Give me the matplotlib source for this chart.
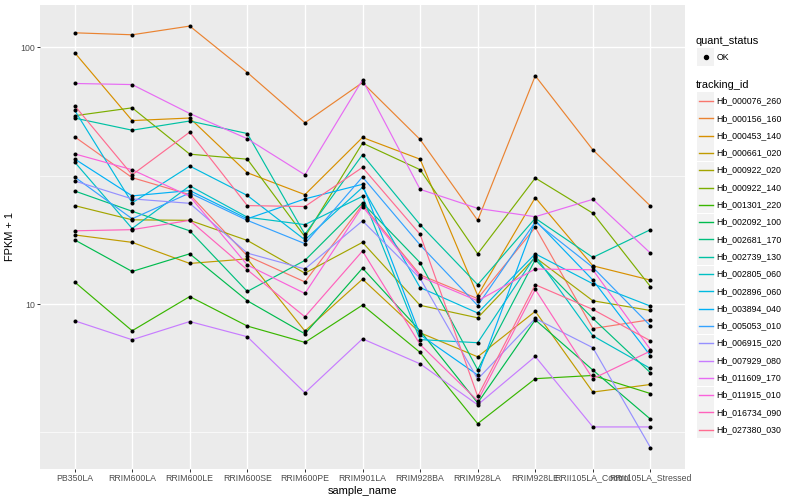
import matplotlib
matplotlib.use("Agg")
import matplotlib.pyplot as plt
from matplotlib.lines import Line2D
from matplotlib.patches import Rectangle
from matplotlib.ticker import FixedLocator, NullFormatter
import numpy as np

plt.rcParams['font.family'] = ['Liberation Sans', 'DejaVu Sans']

samples = ["PB350LA", "RRIM600LA", "RRIM600LE", "RRIM600SE", "RRIM600PE",
           "RRIM901LA", "RRIM928BA", "RRIM928LA", "RRIM928LE",
           "RRII105LA_Control", "RRII105LA_Stressed"]

tracking_ids = ["Hb_000076_260", "Hb_000156_160", "Hb_000453_140", "Hb_000661_020",
                "Hb_000922_020", "Hb_000922_140", "Hb_001301_220", "Hb_002092_100",
                "Hb_002681_170", "Hb_002739_130", "Hb_002805_060", "Hb_002896_060",
                "Hb_003894_040", "Hb_005053_010", "Hb_006915_020", "Hb_007929_080",
                "Hb_011609_170", "Hb_011915_010", "Hb_016734_090", "Hb_027380_030"]

# FPKM + 1 per gene, one value per sample (same order as samples)
hb_000076_260 = [44.9, 31.1, 26.7, 15.4, 12.2, 24.4, 13.0, 10.5, 19.9, 8.03, 8.69]
hb_000156_160 = [114.1, 112.1, 121.2, 79.9, 50.9, 73.0, 43.8, 21.2, 77.6, 39.9, 24.1]
hb_000453_140 = [95.6, 51.9, 53.1, 32.5, 26.7, 44.6, 36.7, 10.8, 26.0, 14.1, 12.4]
hb_000661_020 = [18.6, 17.4, 14.4, 15.0, 7.85, 12.5, 7.73, 6.23, 9.37, 4.54, 4.86]
hb_000922_020 = [24.2, 21.3, 21.2, 17.7, 13.2, 17.4, 9.89, 8.84, 15.2, 10.3, 9.44]
hb_000922_140 = [54.2, 58.2, 38.4, 36.7, 18.3, 42.4, 33.4, 15.7, 31.0, 22.6, 11.7]
hb_001301_220 = [12.2, 7.87, 10.7, 8.21, 7.09, 9.91, 6.48, 3.42, 5.12, 5.27, 4.48]
hb_002092_100 = [17.8, 13.4, 15.7, 10.3, 7.66, 13.8, 7.87, 4.12, 8.68, 5.53, 3.56]
hb_002681_170 = [27.6, 23.0, 19.3, 11.2, 14.8, 24.8, 14.5, 5.55, 14.9, 8.79, 5.40]
hb_002739_130 = [53.1, 47.6, 51.7, 46.2, 18.7, 38.2, 20.4, 11.9, 21.6, 15.2, 19.5]
hb_002805_060 = [35.8, 19.7, 28.9, 21.8, 20.4, 26.3, 7.27, 7.07, 15.4, 7.52, 5.61]
hb_002896_060 = [57.0, 24.8, 34.5, 26.5, 17.8, 28.5, 11.6, 9.23, 15.7, 12.0, 9.82]
hb_003894_040 = [36.8, 26.4, 27.7, 21.5, 25.7, 29.3, 7.59, 5.29, 21.2, 12.4, 6.29]
hb_005053_010 = [31.3, 21.5, 27.1, 21.2, 17.2, 31.3, 17.0, 9.87, 20.9, 13.9, 8.23]
hb_006915_020 = [30.2, 25.7, 24.7, 15.8, 13.7, 21.1, 12.6, 5.10, 8.79, 6.76, 2.76]
hb_007929_080 = [8.61, 7.26, 8.55, 7.46, 4.51, 7.32, 5.85, 4.05, 6.25, 3.32, 3.32]
hb_011609_170 = [72.4, 71.7, 55.3, 44.1, 31.9, 74.8, 28.0, 23.6, 21.9, 25.6, 15.8]
hb_011915_010 = [38.5, 33.4, 26.3, 14.2, 11.0, 24.0, 12.8, 10.3, 13.7, 13.6, 6.65]
hb_016734_090 = [19.3, 19.5, 21.2, 13.6, 8.92, 16.1, 6.96, 4.20, 11.4, 5.12, 6.56]
hb_027380_030 = [59.4, 31.9, 46.8, 24.2, 24.0, 34.1, 18.7, 4.37, 11.9, 9.53, 7.19]

quant_status = ["OK"]

series = [hb_000076_260, hb_000156_160, hb_000453_140, hb_000661_020, hb_000922_020,
          hb_000922_140, hb_001301_220, hb_002092_100, hb_002681_170, hb_002739_130,
          hb_002805_060, hb_002896_060, hb_003894_040, hb_005053_010, hb_006915_020,
          hb_007929_080, hb_011609_170, hb_011915_010, hb_016734_090, hb_027380_030]

colors = ["#F8766D", "#EA8331", "#D89000", "#C09B00", "#A3A500", "#7CAE00", "#39B600",
          "#00BB4E", "#00BF7D", "#00C1A3", "#00BFC4", "#00BAE0", "#00B0F6", "#35A2FF",
          "#9590FF", "#C77CFF", "#E76BF3", "#FA62DB", "#FF62BC", "#FF6C91"]

W, H = 800, 500
fig = plt.figure(figsize=(W / 100, H / 100), dpi=100)
fig.patch.set_facecolor("white")

# panel in pixel coordinates
pl, pr, pt, pb = 40, 685, 5, 468.6
ax = fig.add_axes([pl / W, 1 - pb / H, (pr - pl) / W, (pb - pt) / H])
ax.set_facecolor("#EBEBEB")
for s in ax.spines.values():
    s.set_visible(False)

x = np.arange(len(samples))
ax.set_yscale("log")
allv = np.log10(np.concatenate([np.asarray(v) for v in series]))
lo, hi = allv.min(), allv.max()
ext = (hi - lo) * 0.05
ax.set_ylim(10 ** (lo - ext), 10 ** (hi + ext))
ax.set_xlim(-0.6, len(samples) - 0.4)

ax.set_yticks([10, 100])
ax.set_yticklabels(["10", "100"])
ax.yaxis.set_minor_locator(FixedLocator([10 ** 0.5, 10 ** 1.5]))
ax.yaxis.set_minor_formatter(NullFormatter())
ax.set_xticks(x)
ax.set_xticklabels(samples)
ax.set_axisbelow(True)
ax.grid(which="major", color="white", linewidth=1.0)
ax.grid(which="minor", axis="y", color="white", linewidth=0.5)
ax.tick_params(which="major", length=2.0, width=0.7, color="#333333",
               labelcolor="#4D4D4D", labelsize=6.3, pad=1.6)
ax.tick_params(which="minor", length=0)

for vals, col in zip(series, colors):
    ax.plot(x, vals, color=col, linewidth=0.85, zorder=2, solid_capstyle="butt")
for vals in series:
    ax.plot(x, vals, linestyle="none", marker="o", markersize=2.9,
            markerfacecolor="black", markeredgecolor="black",
            markeredgewidth=0, zorder=3)

ax.set_xlabel("sample_name", fontsize=7.9, labelpad=2.5)
ax.set_ylabel("FPKM + 1", fontsize=7.9, labelpad=4)


def fx(px):
    return px / W


def fy(py):
    return 1 - py / H


# legend: quant_status
kx0, kx1 = 697, 714
fig.text(fx(696), fy(41), "quant_status", fontsize=7.9, va="center", ha="left")
for i, q in enumerate(quant_status):
    cy = 57 + i * 17.3
    fig.add_artist(Rectangle((fx(kx0), fy(cy + 8.5)), (kx1 - kx0) / W, 17 / H,
                             transform=fig.transFigure, facecolor="#F2F2F2",
                             edgecolor="none"))
    fig.add_artist(Line2D([fx((kx0 + kx1) / 2)], [fy(cy)], transform=fig.transFigure,
                          marker="o", markersize=2.9, color="black", linestyle="none"))
    fig.text(fx(716.5), fy(cy), q, fontsize=6.3, va="center", ha="left")

# legend: tracking_id
fig.text(fx(696), fy(85), "tracking_id", fontsize=7.9, va="center", ha="left")
for i, (tid, col) in enumerate(zip(tracking_ids, colors)):
    cy = 101 + i * 17.3
    fig.add_artist(Rectangle((fx(kx0), fy(cy + 8.5)), (kx1 - kx0) / W, 17 / H,
                             transform=fig.transFigure, facecolor="#F2F2F2",
                             edgecolor="none"))
    fig.add_artist(Line2D([fx(698.5), fx(712.5)], [fy(cy), fy(cy)],
                          transform=fig.transFigure, color=col, linewidth=1.0))
    fig.text(fx(716.5), fy(cy), tid, fontsize=6.3, va="center", ha="left")

fig.savefig("out.png", dpi=100)
